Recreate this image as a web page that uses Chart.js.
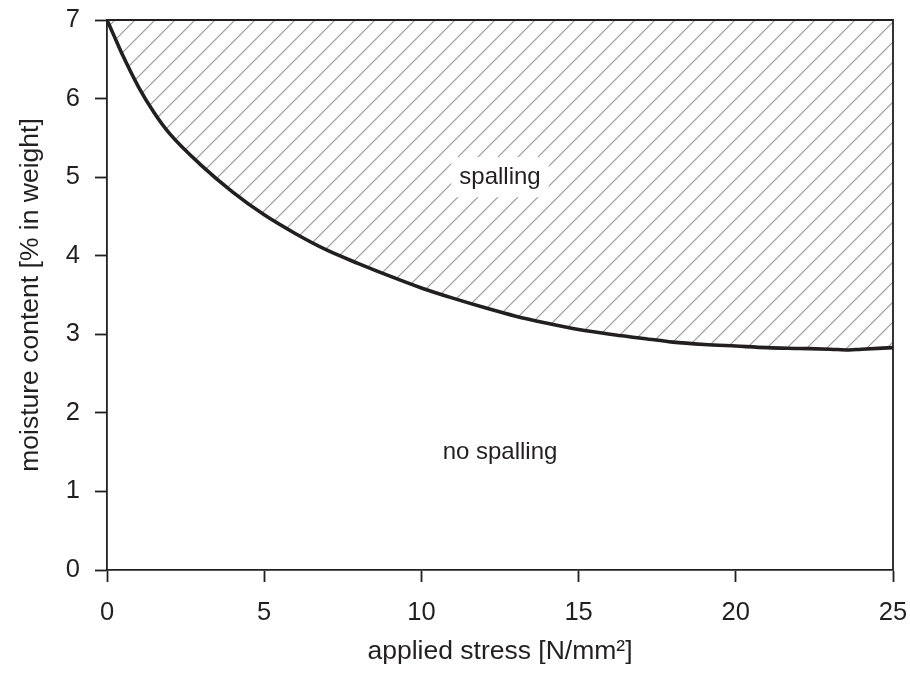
<!DOCTYPE html>
<html>
<head>
<meta charset="utf-8">
<title>Spalling vs moisture content</title>
<script src="https://cdn.jsdelivr.net/npm/chart.js@4/dist/chart.umd.min.js"></script>
<style>
  html, body { margin: 0; padding: 0; background: #ffffff; }
  #wrap { width: 910px; height: 675px; }
</style>
</head>
<body>
<div id="wrap"><canvas id="chart" width="910" height="675"></canvas></div>
<script>
// Boundary between spalling and no spalling
const stress = [0, 0.2, 0.5, 1, 1.5, 2, 3, 4, 5, 6, 7, 8, 9, 10, 11, 12, 13, 14, 15, 16, 17, 18, 19, 20, 21, 22, 23, 23.6, 24, 25];
const moisture = [7.00, 6.82, 6.55, 6.15, 5.82, 5.55, 5.15, 4.81, 4.52, 4.28, 4.07, 3.90, 3.74, 3.59, 3.46, 3.34, 3.23, 3.14, 3.06, 3.00, 2.95, 2.90, 2.87, 2.85, 2.83, 2.82, 2.81, 2.80, 2.81, 2.83];

// Axis ranges and tick steps
const xRange = [0, 25];
const yRange = [0, 7];
const xStep = 5;
const yStep = 1;

// Region labels: [text, x, y]
const regionLabels = [
  ['spalling', 12.5, 5.0],
  ['no spalling', 12.5, 1.5]
];

const xTitle = 'applied stress [N/mm²]';
const yTitle = 'moisture content [% in weight]';

const FONT = '"Liberation Sans", Arial, Helvetica, sans-serif';
const INK = '#231f20';

// Diagonal hatch pattern for the spalling zone
function makeHatch() {
  const s = 20;
  const c = document.createElement('canvas');
  c.width = s; c.height = s;
  const g = c.getContext('2d');
  g.strokeStyle = '#9a9a9a';
  g.lineWidth = 1.2;
  g.beginPath();
  g.moveTo(-2, s + 2); g.lineTo(s + 2, -2);
  g.moveTo(-2, 2); g.lineTo(2, -2);
  g.moveTo(s - 2, s + 2); g.lineTo(s + 2, s - 2);
  g.stroke();
  const p = document.getElementById('chart').getContext('2d').createPattern(c, 'repeat');
  if (p.setTransform) p.setTransform(new DOMMatrix().translate(15, 0));
  return p;
}

const canvasBg = {
  id: 'canvasBg',
  beforeDraw(chart) {
    const ctx = chart.ctx;
    ctx.save();
    ctx.fillStyle = '#ffffff';
    ctx.fillRect(0, 0, chart.width, chart.height);
    ctx.restore();
  }
};

// Closes the plot frame on the top and right sides and writes the region labels
const frameAndLabels = {
  id: 'frameAndLabels',
  afterDraw(chart) {
    const { ctx, chartArea: a, scales } = chart;
    ctx.save();
    ctx.strokeStyle = INK;
    ctx.lineWidth = 1.8;
    ctx.beginPath();
    ctx.moveTo(a.left, a.top);
    ctx.lineTo(a.right, a.top);
    ctx.lineTo(a.right, a.bottom);
    ctx.stroke();

    ctx.font = '24px ' + FONT;
    ctx.textAlign = 'center';
    ctx.textBaseline = 'middle';
    regionLabels.forEach(([text, xv, yv]) => {
      const px = scales.x.getPixelForValue(xv);
      const py = scales.y.getPixelForValue(yv);
      const w = ctx.measureText(text).width;
      ctx.fillStyle = '#ffffff';
      ctx.fillRect(px - w / 2 - 8, py - 20, w + 16, 40);
      ctx.fillStyle = INK;
      ctx.fillText(text, px, py);
    });
    ctx.restore();
  }
};

new Chart(document.getElementById('chart'), {
  type: 'line',
  data: {
    datasets: [{
      data: stress.map((x, i) => ({ x: x, y: moisture[i] })),
      borderColor: INK,
      borderWidth: 3.6,
      pointRadius: 0,
      cubicInterpolationMode: 'monotone',
      fill: 'end',
      backgroundColor: makeHatch()
    }]
  },
  options: {
    responsive: false,
    animation: false,
    layout: { padding: { top: 20, right: 17, left: 0, bottom: 0 } },
    plugins: {
      legend: { display: false },
      tooltip: { enabled: false }
    },
    scales: {
      x: {
        type: 'linear',
        min: xRange[0], max: xRange[1],
        afterFit(scale) {
          scale.height = 105;
          scale.paddingLeft = 0; scale.paddingRight = 0;
        },
        ticks: {
          stepSize: xStep,
          color: INK,
          padding: 16,
          font: { family: FONT, size: 25.5 }
        },
        grid: { drawOnChartArea: false, tickLength: 12, tickColor: INK, tickWidth: 1.8 },
        border: { color: INK, width: 1.8 },
        title: {
          display: true, text: xTitle, color: INK,
          font: { family: FONT, size: 26.5 },
          padding: { top: 0, bottom: 7 }
        }
      },
      y: {
        type: 'linear',
        min: yRange[0], max: yRange[1],
        afterFit(scale) {
          scale.width = 107;
          scale.paddingTop = 0; scale.paddingBottom = 0;
        },
        ticks: {
          stepSize: yStep,
          color: INK,
          padding: 15,
          font: { family: FONT, size: 25.5 }
        },
        grid: { drawOnChartArea: false, tickLength: 12, tickColor: INK, tickWidth: 1.8 },
        border: { color: INK, width: 1.8 },
        title: {
          display: true, text: yTitle, color: INK,
          font: { family: FONT, size: 26.5 },
          padding: { top: 15, bottom: 0 }
        }
      }
    }
  },
  plugins: [canvasBg, frameAndLabels]
});
</script>
</body>
</html>
